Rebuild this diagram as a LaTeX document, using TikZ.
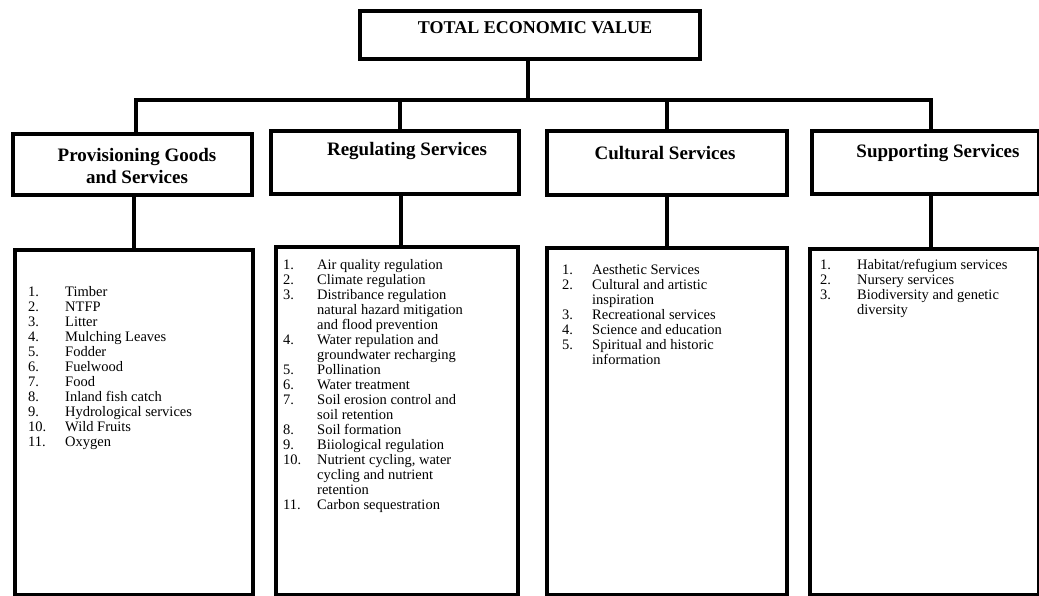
\documentclass[tikz,border=0pt]{standalone}
\usepackage{fontspec}
\setmainfont{Liberation Serif}
\begin{document}
\begin{tikzpicture}[x=1pt,y=-1pt,
  box/.style={draw, line width=3.8pt, rectangle, inner sep=0pt, anchor=north west},
  ln/.style={line width=3.8pt},
  ttl/.style={font=\fontsize{19}{22}\selectfont\bfseries, align=center, inner sep=0pt},
  lst/.style={font=\fontsize{14.5}{15}\selectfont, anchor=north west, inner sep=0pt}]
\useasboundingbox (0,0) rectangle (1039,595);
% top box
\node[box, minimum width=340, minimum height=48] (tev) at (358,9) {};
\node[ttl, font=\fontsize{18}{22}\selectfont\bfseries] (tevt) at (535,28) {TOTAL ECONOMIC VALUE};
% category boxes
\node[box, minimum width=239, minimum height=61] (pg) at (11,132) {};
\node[box, minimum width=248, minimum height=63] (rg) at (269,129) {};
\node[box, minimum width=240, minimum height=64] (cg) at (545,129) {};
\node[box, minimum width=227, minimum height=63] (sg) at (810,129) {};
\node[ttl] (pgt) at (137,166) {Provisioning Goods\\and Services};
\node[ttl] (rgt) at (407,151) {Regulating Services};
\node[ttl] (cgt) at (665,153) {Cultural Services};
\node[ttl] (sgt) at (938,153) {Supporting Services};
% list boxes
\node[box, minimum width=238, minimum height=345] (pl) at (13,248) {};
\node[box, minimum width=242, minimum height=348] (rl) at (274,245) {};
\node[box, minimum width=240, minimum height=347] (cl) at (545,246) {};
\node[box, minimum width=229, minimum height=346] (sl) at (808,247) {};
% connectors
\coordinate (j1) at (136,100);
\coordinate (j2) at (400,100);
\coordinate (j3) at (667,100);
\coordinate (j4) at (931,100);
\coordinate (jt) at (528,100);
\draw[ln] (tev.south -| jt) -- (jt);
\draw[ln] (pg.north -| j1) -- (j1) -- (j4) -- (sg.north -| j4);
\draw[ln] (j2) -- (rg.north -| j2);
\draw[ln] (j3) -- (cg.north -| j3);
\draw[ln] (pg.south -| 134,0) -- (pl.north -| 134,0);
\draw[ln] (rg.south -| 401,0) -- (rl.north -| 401,0);
\draw[ln] (cg.south -| 667,0) -- (cl.north -| 667,0);
\draw[ln] (sg.south -| 931,0) -- (sl.north -| 931,0);
% lists
\node[lst] (plt) at (28,286) {\begin{tabular}{@{}p{37pt}@{}l@{}}
1. & Timber\\
2. & NTFP\\
3. & Litter\\
4. & Mulching Leaves\\
5. & Fodder\\
6. & Fuelwood\\
7. & Food\\
8. & Inland fish catch\\
9. & Hydrological services\\
10. & Wild Fruits\\
11. & Oxygen
\end{tabular}};
\node[lst] (rlt) at (283,259) {\begin{tabular}{@{}p{34pt}@{}l@{}}
1. & Air quality regulation\\
2. & Climate regulation\\
3. & Distribance regulation\\
   & natural hazard mitigation\\
   & and flood prevention\\
4. & Water repulation and\\
   & groundwater recharging\\
5. & Pollination\\
6. & Water treatment\\
7. & Soil erosion control and\\
   & soil retention\\
8. & Soil formation\\
9. & Biiological regulation\\
10. & Nutrient cycling, water\\
   & cycling and nutrient\\
   & retention\\
11. & Carbon sequestration
\end{tabular}};
\node[lst] (clt) at (562,264) {\begin{tabular}{@{}p{30pt}@{}l@{}}
1. & Aesthetic Services\\
2. & Cultural and artistic\\
   & inspiration\\
3. & Recreational services\\
4. & Science and education\\
5. & Spiritual and historic\\
   & information
\end{tabular}};
\node[lst] (slt) at (820,259) {\begin{tabular}{@{}p{37pt}@{}l@{}}
1. & Habitat/refugium services\\
2. & Nursery services\\
3. & Biodiversity and genetic\\
   & diversity
\end{tabular}};
\end{tikzpicture}
\end{document}
